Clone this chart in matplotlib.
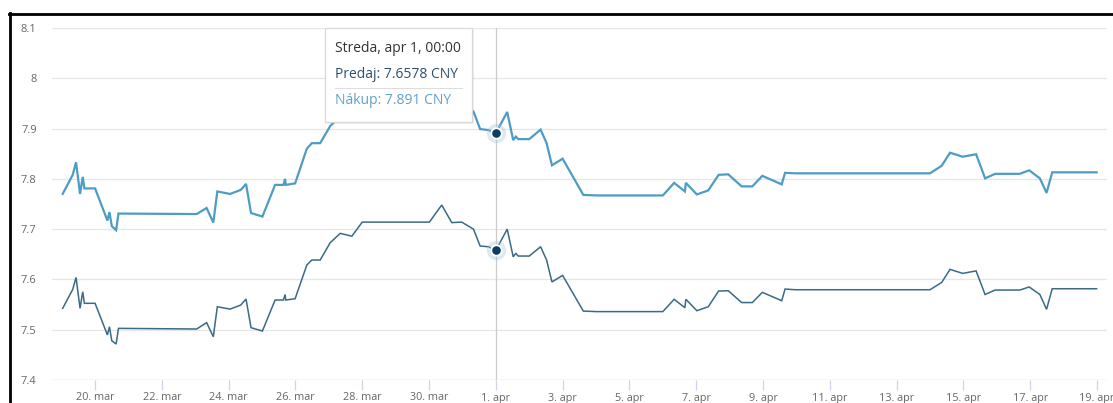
import matplotlib
matplotlib.use("Agg")
import matplotlib.pyplot as plt
from matplotlib.lines import Line2D
from matplotlib.patches import FancyBboxPatch

# x = day of March (April days continue as 31 + day)
time_x = [19.03, 19.33, 19.43, 19.55, 19.63, 19.68, 20.00, 20.37, 20.43, 20.50,
          20.63, 20.70, 23.04, 23.34, 23.54, 23.66, 24.04, 24.36, 24.52, 24.67,
          25.01, 25.39, 25.64, 25.69, 25.71, 25.99, 26.34, 26.49, 26.74, 27.04,
          27.34, 27.69, 28.00, 30.01, 30.38, 30.68, 30.98, 31.33, 31.53, 31.78,
          32.00, 32.34, 32.52, 32.60, 32.67, 33.00, 33.34, 33.52, 33.68, 34.00,
          34.62, 35.02, 37.00, 37.34, 37.66, 37.69, 38.02, 38.36, 38.67, 38.96,
          39.36, 39.68, 39.98, 40.56, 40.66, 40.96, 45.00, 45.35, 45.60, 45.98,
          46.38, 46.65, 46.95, 47.69, 47.97, 48.29, 48.49, 48.66, 49.99]

predaj = [7.5425, 7.580, 7.604, 7.5425, 7.5755, 7.5525, 7.5525, 7.4895, 7.506, 7.478,
          7.4716, 7.5027, 7.5014, 7.514, 7.486, 7.5457, 7.541, 7.549, 7.561, 7.504,
          7.4974, 7.559, 7.559, 7.570, 7.559, 7.5617, 7.6286, 7.6386, 7.6386, 7.673,
          7.6916, 7.686, 7.714, 7.714, 7.748, 7.713, 7.714, 7.700, 7.6664, 7.665,
          7.6578, 7.700, 7.645, 7.652, 7.6465, 7.6465, 7.665, 7.6386, 7.595, 7.608,
          7.537, 7.536, 7.536, 7.5605, 7.5437, 7.5605, 7.5378, 7.5457, 7.5769, 7.5775,
          7.554, 7.554, 7.5743, 7.5577, 7.5809, 7.5795, 7.5795, 7.594, 7.620, 7.612,
          7.617, 7.570, 7.5789, 7.5789, 7.585, 7.570, 7.5405, 7.5815, 7.5815]

nakup = [7.770, 7.808, 7.833, 7.770, 7.804, 7.781, 7.781, 7.717, 7.734, 7.706,
         7.698, 7.731, 7.730, 7.742, 7.713, 7.775, 7.770, 7.778, 7.790, 7.732,
         7.725, 7.788, 7.788, 7.800, 7.788, 7.791, 7.860, 7.871, 7.871, 7.905,
         7.924, 7.918, 7.946, 7.946, 7.981, 7.945, 7.946, 7.934, 7.899, 7.897,
         7.891, 7.933, 7.877, 7.884, 7.879, 7.879, 7.898, 7.871, 7.827, 7.840,
         7.768, 7.767, 7.767, 7.792, 7.775, 7.792, 7.769, 7.777, 7.808, 7.809,
         7.785, 7.785, 7.806, 7.789, 7.812, 7.811, 7.811, 7.826, 7.852, 7.844,
         7.849, 7.801, 7.810, 7.810, 7.817, 7.801, 7.772, 7.813, 7.813]

tick_pos = [20, 22, 24, 26, 28, 30, 32, 34, 36, 38, 40, 42, 44, 46, 48, 50]
tick_labels = ["20. mar", "22. mar", "24. mar", "26. mar", "28. mar", "30. mar",
               "1. apr", "3. apr", "5. apr", "7. apr", "9. apr", "11. apr",
               "13. apr", "15. apr", "17. apr", "19. apr"]
y_ticks = [7.4, 7.5, 7.6, 7.7, 7.8, 7.9, 8.0, 8.1]
y_labels = ["7.4", "7.5", "7.6", "7.7", "7.8", "7.9", "8", "8.1"]

hover_x = 32.00
hover_predaj = 7.6578
hover_nakup = 7.891

W, H = 1113, 403
fig = plt.figure(figsize=(W / 100, H / 100), dpi=100)
fig.patch.set_facecolor("white")
ax = fig.add_axes([52 / W, 1 - 380 / H, (1107 - 52) / W, (380 - 28) / H])
ax.set_xlim(18.71, 50.30)
ax.set_ylim(7.4, 8.1)
for s in ax.spines.values():
    s.set_visible(False)

font = "Open Sans"
for yt in y_ticks[1:]:
    ax.axhline(yt, color="#e6e6e6", lw=0.9, zorder=1)
ax.axhline(7.4, color="#ccd6eb", lw=1.0, zorder=1)

ax.set_yticks(y_ticks)
ax.set_yticklabels(y_labels, family=font, fontsize=8, color="#666666")
ax.tick_params(axis="y", length=0, pad=11)
ax.set_xticks(tick_pos)
ax.set_xticklabels(tick_labels, family=font, fontsize=7.8, color="#666666")
ax.tick_params(axis="x", length=7, width=0.9, color="#ccd6eb", pad=2)

# crosshair
ax.axvline(hover_x, color="#cccccc", lw=0.9, zorder=2)

ax.plot(time_x, nakup, color="#4e9cc6", lw=1.6, zorder=3, solid_joinstyle="miter")
ax.plot(time_x, predaj, color="#3a6a86", lw=1.1, zorder=3, solid_joinstyle="miter")

for yv in (hover_nakup, hover_predaj):
    ax.plot([hover_x], [yv], "o", ms=14, color="#9ec3da", alpha=0.35, mec="none", zorder=4)
    ax.plot([hover_x], [yv], "o", ms=7.5, color="#0c3d62", mec="white", mew=1.3, zorder=5)

# tooltip
bx0, by0, bw, bh = 325, 28, 147, 94
shadow = FancyBboxPatch(((bx0 + 1.5) / W, 1 - (by0 + bh + 1.5) / H), bw / W, bh / H,
                        boxstyle="square,pad=0", transform=fig.transFigure,
                        facecolor="#000000", alpha=0.06, edgecolor="none", zorder=9)
fig.patches.append(shadow)
box = FancyBboxPatch((bx0 / W, 1 - (by0 + bh) / H), bw / W, bh / H,
                     boxstyle="square,pad=0", transform=fig.transFigure,
                     facecolor="white", edgecolor="#d8d8d8", lw=0.9, zorder=10)
fig.patches.append(box)
fig.text(335 / W, 1 - 49 / H, "Streda, apr 1, 00:00", family=font, fontsize=10,
         color="#333333", va="center", ha="left", zorder=11)
fig.text(335 / W, 1 - 74 / H, f"Predaj: {hover_predaj:.4f} CNY", family=font, fontsize=10,
         color="#2c4f70", va="center", ha="left", zorder=11)
fig.lines.append(Line2D([335 / W, 462 / W], [1 - 88 / H, 1 - 88 / H],
                        transform=fig.transFigure, color="#dddddd", lw=0.8, zorder=11))
fig.text(335 / W, 1 - 100 / H, f"Nákup: {hover_nakup:.3f} CNY", family=font, fontsize=10,
         color="#5fa3c8", va="center", ha="left", zorder=11)

# outer black frame (top and left)
fig.lines.append(Line2D([9 / W, 1.0], [1 - 14 / H, 1 - 14 / H], transform=fig.transFigure,
                        color="black", lw=2.0, zorder=20))
fig.lines.append(Line2D([10 / W, 10 / W], [1 - 13 / H, 0.0], transform=fig.transFigure,
                        color="black", lw=2.0, zorder=20))

fig.savefig("out.png", dpi=100, facecolor="white")
